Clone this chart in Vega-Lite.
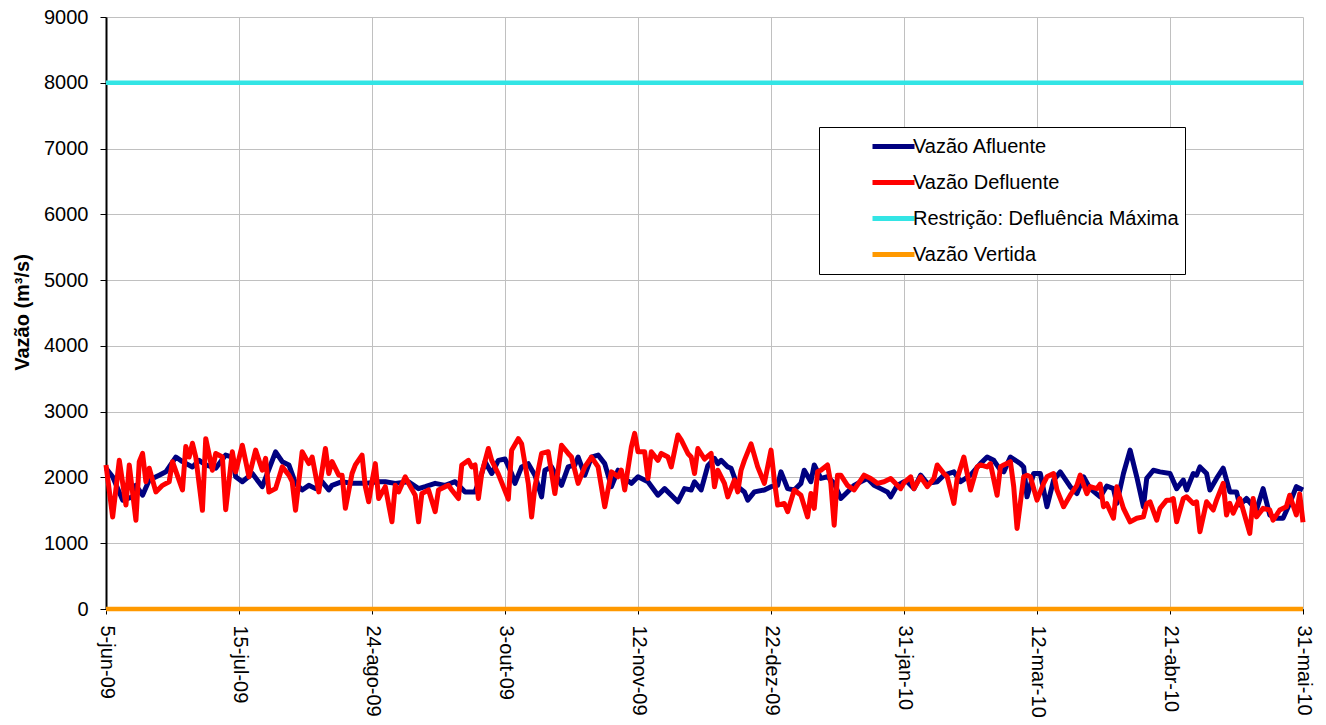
{
  "$schema": "https://vega.github.io/schema/vega-lite/v6.json",
  "width": 1197,
  "height": 592,
  "autosize": "none",
  "padding": {"left": 106, "top": 17, "right": 23, "bottom": 116},
  "background": "white",
  "config": {
    "font": "Liberation Sans",
    "view": {"stroke": null},
    "axis": {"labelFont": "Liberation Sans", "labelColor": "black", "labelFontSize": 20, "gridColor": "#C0C0C0", "gridWidth": 1, "domainColor": "black", "tickColor": "black"}
  },
  "datasets": {
    "afluente": [
      {"data":"2009-06-05","vazao":2140},{"data":"2009-06-07","vazao":2010},{"data":"2009-06-10","vazao":1655},{"data":"2009-06-13","vazao":1705},{"data":"2009-06-14","vazao":1880},{"data":"2009-06-16","vazao":1730},{"data":"2009-06-18","vazao":1960},{"data":"2009-06-21","vazao":2035},{"data":"2009-06-23","vazao":2085},{"data":"2009-06-26","vazao":2310},{"data":"2009-06-28","vazao":2240},
      {"data":"2009-07-01","vazao":2160},{"data":"2009-07-03","vazao":2260},{"data":"2009-07-05","vazao":2190},{"data":"2009-07-08","vazao":2140},{"data":"2009-07-11","vazao":2340},{"data":"2009-07-13","vazao":2310},{"data":"2009-07-14","vazao":2010},{"data":"2009-07-16","vazao":1935},{"data":"2009-07-19","vazao":2060},{"data":"2009-07-22","vazao":1860},{"data":"2009-07-26","vazao":2390},{"data":"2009-07-28","vazao":2240},{"data":"2009-07-30","vazao":2190},
      {"data":"2009-08-01","vazao":1910},{"data":"2009-08-03","vazao":1810},{"data":"2009-08-05","vazao":1880},{"data":"2009-08-07","vazao":1830},{"data":"2009-08-09","vazao":1935},{"data":"2009-08-11","vazao":1810},{"data":"2009-08-12","vazao":1880},{"data":"2009-08-15","vazao":1935},{"data":"2009-08-18","vazao":1910},{"data":"2009-08-22","vazao":1910},{"data":"2009-08-26","vazao":1935},{"data":"2009-08-28","vazao":1935},{"data":"2009-08-31","vazao":1910},
      {"data":"2009-09-04","vazao":1935},{"data":"2009-09-07","vazao":1830},{"data":"2009-09-09","vazao":1860},{"data":"2009-09-12","vazao":1910},{"data":"2009-09-15","vazao":1880},{"data":"2009-09-18","vazao":1935},{"data":"2009-09-21","vazao":1780},{"data":"2009-09-24","vazao":1780},{"data":"2009-09-26","vazao":2060},{"data":"2009-09-27","vazao":2240},{"data":"2009-09-29","vazao":2060},
      {"data":"2009-10-01","vazao":2260},{"data":"2009-10-03","vazao":2280},{"data":"2009-10-05","vazao":2060},{"data":"2009-10-06","vazao":1910},{"data":"2009-10-08","vazao":2160},{"data":"2009-10-10","vazao":2210},{"data":"2009-10-12","vazao":2035},{"data":"2009-10-14","vazao":1705},{"data":"2009-10-15","vazao":2110},{"data":"2009-10-17","vazao":2160},{"data":"2009-10-20","vazao":1880},{"data":"2009-10-22","vazao":2160},{"data":"2009-10-24","vazao":2190},{"data":"2009-10-25","vazao":2310},{"data":"2009-10-27","vazao":2035},{"data":"2009-10-29","vazao":2310},{"data":"2009-10-31","vazao":2340},
      {"data":"2009-11-02","vazao":2210},{"data":"2009-11-04","vazao":1860},{"data":"2009-11-06","vazao":2110},{"data":"2009-11-08","vazao":1985},{"data":"2009-11-10","vazao":1910},{"data":"2009-11-12","vazao":2010},{"data":"2009-11-15","vazao":1935},{"data":"2009-11-18","vazao":1730},{"data":"2009-11-20","vazao":1830},{"data":"2009-11-24","vazao":1630},{"data":"2009-11-26","vazao":1830},{"data":"2009-11-28","vazao":1810},{"data":"2009-11-29","vazao":1935},
      {"data":"2009-12-01","vazao":1810},{"data":"2009-12-03","vazao":2180},{"data":"2009-12-05","vazao":2290},{"data":"2009-12-06","vazao":2210},{"data":"2009-12-07","vazao":2260},{"data":"2009-12-09","vazao":2160},{"data":"2009-12-10","vazao":2140},{"data":"2009-12-12","vazao":1860},{"data":"2009-12-14","vazao":1780},{"data":"2009-12-15","vazao":1655},{"data":"2009-12-17","vazao":1780},{"data":"2009-12-20","vazao":1810},{"data":"2009-12-22","vazao":1860},{"data":"2009-12-24","vazao":1880},{"data":"2009-12-25","vazao":2085},{"data":"2009-12-26","vazao":1960},{"data":"2009-12-27","vazao":1830},{"data":"2009-12-29","vazao":1810},{"data":"2009-12-31","vazao":1910},
      {"data":"2010-01-01","vazao":2110},{"data":"2010-01-03","vazao":1935},{"data":"2010-01-04","vazao":2190},{"data":"2010-01-06","vazao":1985},{"data":"2010-01-08","vazao":2010},{"data":"2010-01-10","vazao":1910},{"data":"2010-01-12","vazao":1680},{"data":"2010-01-14","vazao":1780},{"data":"2010-01-16","vazao":1880},{"data":"2010-01-18","vazao":1935},{"data":"2010-01-20","vazao":1985},{"data":"2010-01-22","vazao":1880},{"data":"2010-01-24","vazao":1830},{"data":"2010-01-26","vazao":1780},{"data":"2010-01-27","vazao":1705},{"data":"2010-01-29","vazao":1880},{"data":"2010-01-31","vazao":1935},
      {"data":"2010-02-01","vazao":1935},{"data":"2010-02-03","vazao":1830},{"data":"2010-02-05","vazao":2035},{"data":"2010-02-07","vazao":1910},{"data":"2010-02-10","vazao":1935},{"data":"2010-02-12","vazao":2035},{"data":"2010-02-15","vazao":2085},{"data":"2010-02-17","vazao":1935},{"data":"2010-02-20","vazao":2035},{"data":"2010-02-23","vazao":2210},{"data":"2010-02-25","vazao":2310},{"data":"2010-02-27","vazao":2260},
      {"data":"2010-03-01","vazao":2110},{"data":"2010-03-02","vazao":2085},{"data":"2010-03-04","vazao":2310},{"data":"2010-03-07","vazao":2210},{"data":"2010-03-08","vazao":2160},{"data":"2010-03-09","vazao":1705},{"data":"2010-03-11","vazao":2060},{"data":"2010-03-13","vazao":2060},{"data":"2010-03-15","vazao":1555},{"data":"2010-03-17","vazao":1960},{"data":"2010-03-19","vazao":2085},{"data":"2010-03-22","vazao":1860},{"data":"2010-03-24","vazao":1755},{"data":"2010-03-26","vazao":2010},{"data":"2010-03-28","vazao":1830},{"data":"2010-03-31","vazao":1705},
      {"data":"2010-04-02","vazao":1870},{"data":"2010-04-04","vazao":1830},{"data":"2010-04-05","vazao":1605},{"data":"2010-04-07","vazao":2060},{"data":"2010-04-09","vazao":2415},{"data":"2010-04-11","vazao":2010},{"data":"2010-04-13","vazao":1555},{"data":"2010-04-14","vazao":1985},{"data":"2010-04-16","vazao":2110},{"data":"2010-04-18","vazao":2085},{"data":"2010-04-21","vazao":2060},{"data":"2010-04-23","vazao":1830},{"data":"2010-04-25","vazao":1960},{"data":"2010-04-26","vazao":1810},{"data":"2010-04-28","vazao":2060},{"data":"2010-04-29","vazao":2035},{"data":"2010-04-30","vazao":2160},
      {"data":"2010-05-02","vazao":2060},{"data":"2010-05-03","vazao":1810},{"data":"2010-05-05","vazao":1985},{"data":"2010-05-07","vazao":2140},{"data":"2010-05-09","vazao":1780},{"data":"2010-05-11","vazao":1780},{"data":"2010-05-12","vazao":1580},{"data":"2010-05-14","vazao":1680},{"data":"2010-05-17","vazao":1505},{"data":"2010-05-19","vazao":1830},{"data":"2010-05-21","vazao":1430},{"data":"2010-05-23","vazao":1380},{"data":"2010-05-25","vazao":1380},{"data":"2010-05-27","vazao":1605},{"data":"2010-05-29","vazao":1860},{"data":"2010-05-31","vazao":1810}
    ],
    "defluente": [
      {"data":"2009-06-05","vazao":2190},{"data":"2009-06-07","vazao":1400},{"data":"2009-06-09","vazao":2260},{"data":"2009-06-11","vazao":1580},{"data":"2009-06-12","vazao":2190},{"data":"2009-06-14","vazao":1350},{"data":"2009-06-15","vazao":2240},{"data":"2009-06-16","vazao":2365},{"data":"2009-06-17","vazao":1935},{"data":"2009-06-18","vazao":2140},{"data":"2009-06-20","vazao":1780},{"data":"2009-06-22","vazao":1880},{"data":"2009-06-24","vazao":1935},{"data":"2009-06-25","vazao":2240},{"data":"2009-06-28","vazao":1810},{"data":"2009-06-29","vazao":2470},{"data":"2009-06-30","vazao":2310},
      {"data":"2009-07-01","vazao":2520},{"data":"2009-07-02","vazao":2310},{"data":"2009-07-04","vazao":1500},{"data":"2009-07-05","vazao":2590},{"data":"2009-07-07","vazao":2110},{"data":"2009-07-08","vazao":2365},{"data":"2009-07-10","vazao":2310},{"data":"2009-07-11","vazao":1510},{"data":"2009-07-13","vazao":2390},{"data":"2009-07-14","vazao":2085},{"data":"2009-07-16","vazao":2490},{"data":"2009-07-18","vazao":2010},{"data":"2009-07-20","vazao":2415},{"data":"2009-07-22","vazao":2110},{"data":"2009-07-23","vazao":2290},{"data":"2009-07-24","vazao":1780},{"data":"2009-07-26","vazao":1830},{"data":"2009-07-28","vazao":2160},{"data":"2009-07-30","vazao":2035},{"data":"2009-07-31","vazao":1935},
      {"data":"2009-08-01","vazao":1500},{"data":"2009-08-03","vazao":2390},{"data":"2009-08-05","vazao":2210},{"data":"2009-08-06","vazao":2310},{"data":"2009-08-08","vazao":1780},{"data":"2009-08-10","vazao":2440},{"data":"2009-08-11","vazao":2060},{"data":"2009-08-12","vazao":2240},{"data":"2009-08-14","vazao":2035},{"data":"2009-08-15","vazao":2035},{"data":"2009-08-16","vazao":1530},{"data":"2009-08-18","vazao":2060},{"data":"2009-08-19","vazao":2190},{"data":"2009-08-21","vazao":2340},{"data":"2009-08-22","vazao":1860},{"data":"2009-08-23","vazao":1630},{"data":"2009-08-24","vazao":1935},{"data":"2009-08-25","vazao":2210},{"data":"2009-08-26","vazao":1680},{"data":"2009-08-28","vazao":1860},{"data":"2009-08-30","vazao":1325},{"data":"2009-08-31","vazao":1880},
      {"data":"2009-09-01","vazao":1780},{"data":"2009-09-03","vazao":2010},{"data":"2009-09-04","vazao":1910},{"data":"2009-09-06","vazao":1730},{"data":"2009-09-07","vazao":1325},{"data":"2009-09-08","vazao":1755},{"data":"2009-09-10","vazao":1810},{"data":"2009-09-12","vazao":1480},{"data":"2009-09-13","vazao":1810},{"data":"2009-09-15","vazao":1860},{"data":"2009-09-16","vazao":1880},{"data":"2009-09-17","vazao":1810},{"data":"2009-09-19","vazao":1680},{"data":"2009-09-20","vazao":2190},{"data":"2009-09-22","vazao":2260},{"data":"2009-09-23","vazao":2160},{"data":"2009-09-24","vazao":2190},{"data":"2009-09-25","vazao":1680},{"data":"2009-09-26","vazao":2060},{"data":"2009-09-28","vazao":2440},{"data":"2009-09-29","vazao":2260},
      {"data":"2009-10-01","vazao":2050},{"data":"2009-10-04","vazao":1670},{"data":"2009-10-05","vazao":2415},{"data":"2009-10-07","vazao":2590},{"data":"2009-10-08","vazao":2510},{"data":"2009-10-10","vazao":1910},{"data":"2009-10-11","vazao":1400},{"data":"2009-10-12","vazao":1860},{"data":"2009-10-14","vazao":2365},{"data":"2009-10-16","vazao":2390},{"data":"2009-10-18","vazao":1755},{"data":"2009-10-20","vazao":2490},{"data":"2009-10-22","vazao":2365},{"data":"2009-10-23","vazao":2310},{"data":"2009-10-25","vazao":1910},{"data":"2009-10-27","vazao":2160},{"data":"2009-10-29","vazao":2310},{"data":"2009-10-31","vazao":2160},
      {"data":"2009-11-02","vazao":1555},{"data":"2009-11-04","vazao":2085},{"data":"2009-11-06","vazao":2010},{"data":"2009-11-07","vazao":2110},{"data":"2009-11-08","vazao":1810},{"data":"2009-11-10","vazao":2465},{"data":"2009-11-11","vazao":2670},{"data":"2009-11-12","vazao":2390},{"data":"2009-11-14","vazao":2390},{"data":"2009-11-15","vazao":1985},{"data":"2009-11-16","vazao":2390},{"data":"2009-11-18","vazao":2260},{"data":"2009-11-19","vazao":2365},{"data":"2009-11-21","vazao":2310},{"data":"2009-11-22","vazao":2160},{"data":"2009-11-24","vazao":2645},{"data":"2009-11-25","vazao":2570},{"data":"2009-11-27","vazao":2365},{"data":"2009-11-28","vazao":2310},{"data":"2009-11-29","vazao":2060},{"data":"2009-11-30","vazao":2440},
      {"data":"2009-12-02","vazao":2280},{"data":"2009-12-04","vazao":2365},{"data":"2009-12-05","vazao":1860},{"data":"2009-12-06","vazao":2110},{"data":"2009-12-08","vazao":1910},{"data":"2009-12-09","vazao":1705},{"data":"2009-12-11","vazao":1960},{"data":"2009-12-12","vazao":1780},{"data":"2009-12-13","vazao":2110},{"data":"2009-12-14","vazao":2260},{"data":"2009-12-16","vazao":2510},{"data":"2009-12-18","vazao":2160},{"data":"2009-12-20","vazao":1910},{"data":"2009-12-22","vazao":2415},{"data":"2009-12-23","vazao":1960},{"data":"2009-12-24","vazao":1580},{"data":"2009-12-26","vazao":1605},{"data":"2009-12-27","vazao":1480},{"data":"2009-12-29","vazao":1810},{"data":"2009-12-31","vazao":1730},
      {"data":"2010-01-02","vazao":1400},{"data":"2010-01-03","vazao":1755},{"data":"2010-01-04","vazao":1530},{"data":"2010-01-05","vazao":2085},{"data":"2010-01-06","vazao":2110},{"data":"2010-01-08","vazao":2190},{"data":"2010-01-09","vazao":1910},{"data":"2010-01-10","vazao":1275},{"data":"2010-01-11","vazao":2035},{"data":"2010-01-12","vazao":2035},{"data":"2010-01-14","vazao":1880},{"data":"2010-01-16","vazao":1810},{"data":"2010-01-18","vazao":1960},{"data":"2010-01-19","vazao":2035},{"data":"2010-01-21","vazao":1985},{"data":"2010-01-23","vazao":1910},{"data":"2010-01-25","vazao":1935},{"data":"2010-01-27","vazao":1985},{"data":"2010-01-29","vazao":1880},{"data":"2010-01-30","vazao":1830},{"data":"2010-01-31","vazao":1920},
      {"data":"2010-02-02","vazao":2010},{"data":"2010-02-03","vazao":1830},{"data":"2010-02-05","vazao":2010},{"data":"2010-02-07","vazao":1860},{"data":"2010-02-09","vazao":1985},{"data":"2010-02-10","vazao":2190},{"data":"2010-02-12","vazao":2060},{"data":"2010-02-13","vazao":2010},{"data":"2010-02-15","vazao":1605},{"data":"2010-02-16","vazao":1985},{"data":"2010-02-18","vazao":2310},{"data":"2010-02-20","vazao":1810},{"data":"2010-02-22","vazao":2160},{"data":"2010-02-23","vazao":2190},{"data":"2010-02-25","vazao":2160},{"data":"2010-02-26","vazao":2210},{"data":"2010-02-28","vazao":1730},
      {"data":"2010-03-01","vazao":2160},{"data":"2010-03-02","vazao":2190},{"data":"2010-03-04","vazao":2240},{"data":"2010-03-05","vazao":1860},{"data":"2010-03-06","vazao":1225},{"data":"2010-03-08","vazao":2010},{"data":"2010-03-09","vazao":2035},{"data":"2010-03-10","vazao":2010},{"data":"2010-03-12","vazao":1655},{"data":"2010-03-14","vazao":1910},{"data":"2010-03-15","vazao":2010},{"data":"2010-03-17","vazao":2060},{"data":"2010-03-18","vazao":1810},{"data":"2010-03-20","vazao":1555},{"data":"2010-03-22","vazao":1730},{"data":"2010-03-24","vazao":1880},{"data":"2010-03-25","vazao":2035},{"data":"2010-03-27","vazao":1755},{"data":"2010-03-28","vazao":1860},{"data":"2010-03-30","vazao":1830},{"data":"2010-03-31","vazao":1900},
      {"data":"2010-04-01","vazao":1555},{"data":"2010-04-02","vazao":1600},{"data":"2010-04-04","vazao":1380},{"data":"2010-04-05","vazao":1860},{"data":"2010-04-07","vazao":1530},{"data":"2010-04-09","vazao":1325},{"data":"2010-04-11","vazao":1380},{"data":"2010-04-13","vazao":1400},{"data":"2010-04-14","vazao":1600},{"data":"2010-04-15","vazao":1630},{"data":"2010-04-17","vazao":1350},{"data":"2010-04-18","vazao":1530},{"data":"2010-04-20","vazao":1655},{"data":"2010-04-21","vazao":1655},{"data":"2010-04-22","vazao":1680},{"data":"2010-04-23","vazao":1325},{"data":"2010-04-25","vazao":1680},{"data":"2010-04-26","vazao":1705},{"data":"2010-04-28","vazao":1605},{"data":"2010-04-29","vazao":1630},{"data":"2010-04-30","vazao":1175},
      {"data":"2010-05-02","vazao":1630},{"data":"2010-05-04","vazao":1505},{"data":"2010-05-05","vazao":1655},{"data":"2010-05-07","vazao":1910},{"data":"2010-05-08","vazao":1430},{"data":"2010-05-09","vazao":1605},{"data":"2010-05-10","vazao":1455},{"data":"2010-05-12","vazao":1680},{"data":"2010-05-13","vazao":1505},{"data":"2010-05-15","vazao":1150},{"data":"2010-05-16","vazao":1680},{"data":"2010-05-17","vazao":1400},{"data":"2010-05-19","vazao":1530},{"data":"2010-05-21","vazao":1505},{"data":"2010-05-22","vazao":1350},{"data":"2010-05-24","vazao":1505},{"data":"2010-05-26","vazao":1555},{"data":"2010-05-27","vazao":1730},{"data":"2010-05-29","vazao":1430},{"data":"2010-05-30","vazao":1750},{"data":"2010-05-31","vazao":1320}
    ],
    "limites": [
      {"serie":"Restrição: Defluência Máxima","vazao":8000},
      {"serie":"Vazão Vertida","vazao":0}
    ]
  },
  "encoding": {
    "x": {
      "field": "data", "type": "temporal",
      "scale": {"type": "utc", "domain": [{"year": 2009, "month": 6, "date": 5, "utc": true}, {"year": 2010, "month": 5, "date": 31, "utc": true}], "nice": false},
      "axis": {
        "title": null,
        "values": [
          {"year": 2009, "month": 6, "date": 5, "utc": true},
          {"year": 2009, "month": 7, "date": 15, "utc": true},
          {"year": 2009, "month": 8, "date": 24, "utc": true},
          {"year": 2009, "month": 10, "date": 3, "utc": true},
          {"year": 2009, "month": 11, "date": 12, "utc": true},
          {"year": 2009, "month": 12, "date": 22, "utc": true},
          {"year": 2010, "month": 1, "date": 31, "utc": true},
          {"year": 2010, "month": 3, "date": 12, "utc": true},
          {"year": 2010, "month": 4, "date": 21, "utc": true},
          {"year": 2010, "month": 5, "date": 31, "utc": true}
        ],
        "labelExpr": "utcFormat(datum.value, '%-d') + '-' + ['jan','fev','mar','abr','mai','jun','jul','ago','set','out','nov','dez'][utcmonth(datum.value)] + '-' + utcFormat(datum.value, '%y')",
        "labelAngle": 90,
        "labelAlign": "left",
        "labelBaseline": "middle",
        "tickSize": 5,
        "labelPadding": 11,
        "labelOverlap": false,
        "labelFlush": false,
        "grid": true,
        "domainWidth": 1
      }
    },
    "y": {
      "field": "vazao", "type": "quantitative",
      "scale": {"domain": [0, 9000], "nice": false},
      "axis": {
        "title": "Vazão (m³/s)",
        "titleFontSize": 20,
        "titleFontWeight": "bold",
        "titleColor": "black",
        "titleFont": "Liberation Sans",
        "titleAngle": -90,
        "titleX": -84,
        "titleY": 295,
        "titleAlign": "center",
        "titleBaseline": "middle",
        "values": [0, 1000, 2000, 3000, 4000, 5000, 6000, 7000, 8000, 9000],
        "format": "d",
        "tickSize": 6,
        "labelPadding": 12,
        "grid": true,
        "domainWidth": 2,
        "labelFlush": false
      }
    },
    "color": {
      "type": "nominal",
      "scale": {
        "domain": ["Vazão Afluente", "Vazão Defluente", "Restrição: Defluência Máxima", "Vazão Vertida"],
        "range": ["#000080", "#FF0000", "#33E5E5", "#FF9900"]
      },
      "legend": {
        "title": null,
        "orient": "none",
        "direction": "vertical",
        "legendX": 713,
        "legendY": 110,
        "symbolType": "stroke",
        "symbolSize": 1764,
        "symbolStrokeWidth": 5,
        "clipHeight": 27,
        "rowPadding": 9,
        "labelFontSize": 20,
        "labelFont": "Liberation Sans",
        "labelColor": "black",
        "labelLimit": 500,
        "symbolOffset": 45,
        "labelOffset": -4,
        "padding": 6,
        "strokeColor": "black",
        "fillColor": "white"
      }
    }
  },
  "layer": [
    {
      "data": {"name": "afluente"},
      "mark": {"type": "line", "strokeWidth": 5, "strokeJoin": "round"},
      "encoding": {"color": {"datum": "Vazão Afluente", "type": "nominal"}}
    },
    {
      "data": {"name": "defluente"},
      "mark": {"type": "line", "strokeWidth": 5, "strokeJoin": "round"},
      "encoding": {"color": {"datum": "Vazão Defluente", "type": "nominal"}}
    },
    {
      "data": {"name": "limites"},
      "mark": {"type": "rule", "strokeWidth": 4.5},
      "encoding": {
        "x": null,
        "color": {"field": "serie", "type": "nominal"}
      }
    }
  ]
}
